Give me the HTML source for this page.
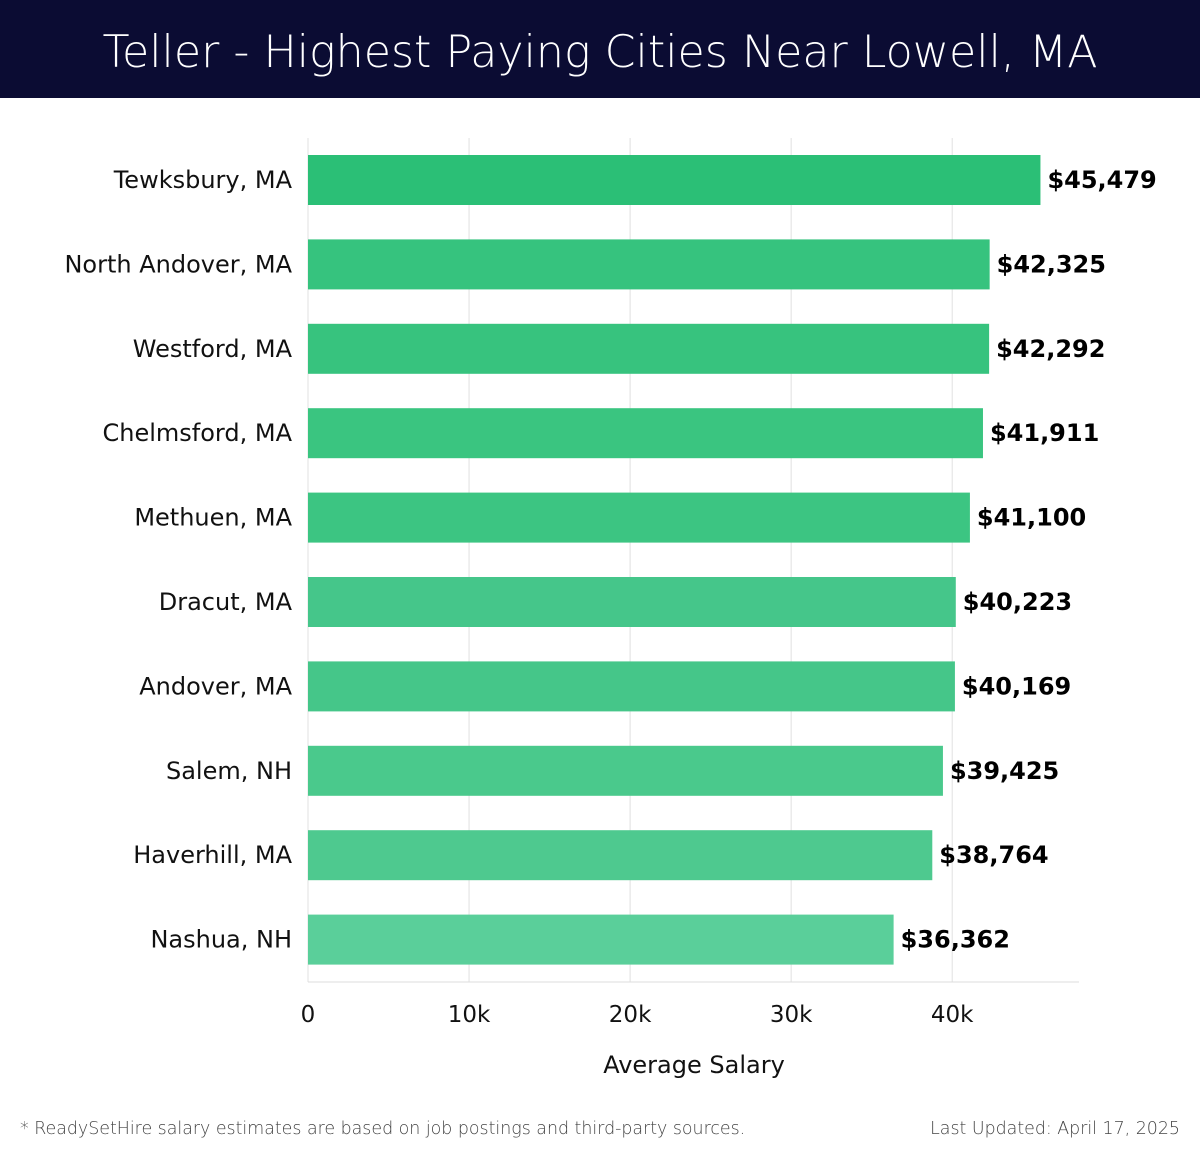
<!DOCTYPE html>
<html><head><meta charset="utf-8"><style>
body{margin:0;width:1200px;height:1158px;background:#fff;font-family:"DejaVu Sans","Liberation Sans",sans-serif;position:relative;overflow:hidden}
#hdr{position:absolute;left:0;top:0;width:1200px;height:98px;background:#0b0c33;color:#fff;font-size:44.3px;text-align:center;line-height:106px;font-family:"DejaVu Sans","Liberation Sans",sans-serif;font-weight:300}
.foot{position:absolute;top:1119px;font-size:17.4px;color:#444;font-family:"DejaVu Sans","Liberation Sans",sans-serif;font-weight:300}
</style></head><body>
<div id="hdr">Teller - Highest Paying Cities Near Lowell, MA</div>
<svg id="chart" width="1200" height="1158" style="position:absolute;left:0;top:0"></svg>
<div class="foot" style="left:20px">* ReadySetHire salary estimates are based on job postings and third-party sources.</div>
<div class="foot" style="right:20px">Last Updated: April 17, 2025</div>
<script>
const categories=["Tewksbury, MA","North Andover, MA","Westford, MA","Chelmsford, MA","Methuen, MA","Dracut, MA","Andover, MA","Salem, NH","Haverhill, MA","Nashua, NH"];
const values=[45479,42325,42292,41911,41100,40223,40169,39425,38764,36362];
const valueLabels=["$45,479","$42,325","$42,292","$41,911","$41,100","$40,223","$40,169","$39,425","$38,764","$36,362"];
const ticks=[0,10000,20000,30000,40000];
const tickLabels=["0","10k","20k","30k","40k"];
const colors=["#2bbf76","#36c37e","#37c37e","#3ac580","#3cc582","#45c68a","#45c689","#4ac98c","#4ec98f","#5acf9a"];
const NS="http://www.w3.org/2000/svg",svg=document.getElementById('chart');
const x=v=>308+v*0.016105;
const yc=i=>180+i*84.4;
function mk(t,a){const e=document.createElementNS(NS,t);for(const k in a)e.setAttribute(k,a[k]);svg.appendChild(e);return e;}
ticks.forEach((t,i)=>{
 const g=mk('line',{x1:x(t),x2:x(t),y1:138,y2:982,stroke:'#e0e0e0','stroke-width':1});
 
 
 const l=mk('text',{x:x(t),y:1022,'text-anchor':'middle','font-size':23,fill:'#111'});l.textContent=tickLabels[i];
 
 
});
const ax=mk('line',{x1:308,x2:1079,y1:982,y2:982,stroke:'#ddd'});


categories.forEach((c,i)=>{
 const b=mk('rect',{x:308,y:yc(i)-25,width:x(values[i])-308,height:50,fill:colors[i]});
 
 
 const l=mk('text',{x:292,y:yc(i)+8,'text-anchor':'end','font-size':24,fill:'#111'});l.textContent=c;
 
 
 const v=mk('text',{x:x(values[i])+7,y:yc(i)+8,'font-size':24,'font-weight':'bold',fill:'#000'});v.textContent=valueLabels[i];
 
 
});
const t=mk('text',{x:694,y:1073,'text-anchor':'middle','font-size':24,fill:'#111'});t.textContent="Average Salary";


</script>
</body></html>
